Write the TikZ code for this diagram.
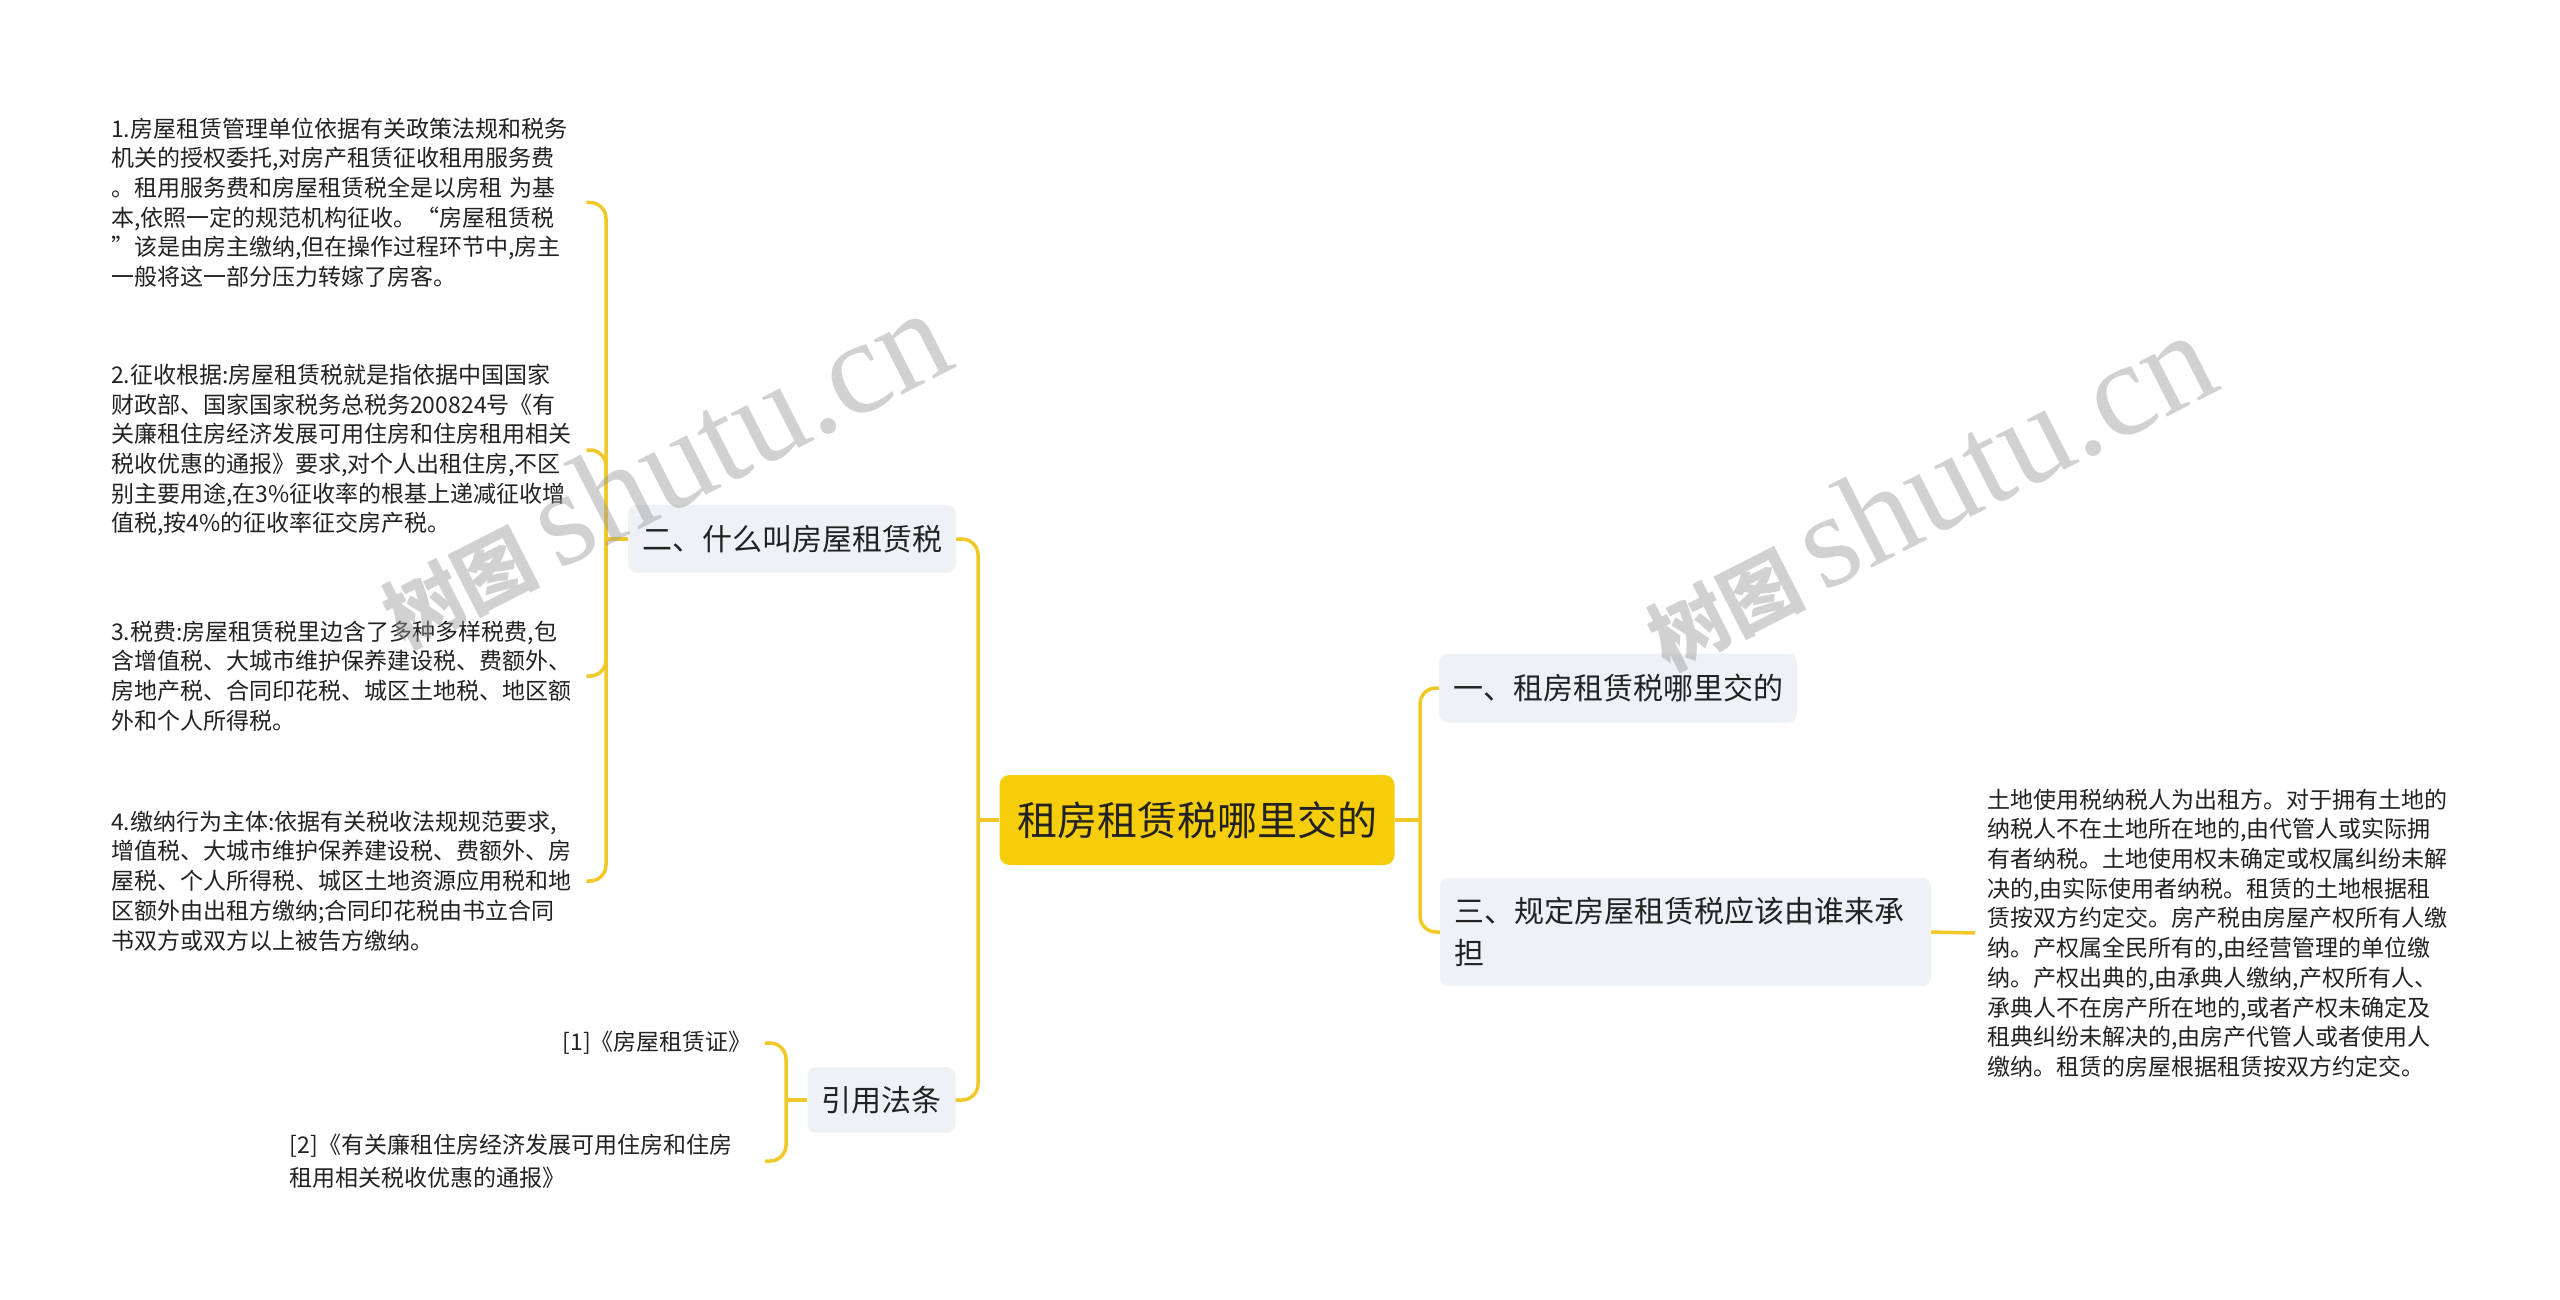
\documentclass[tikz,border=0pt]{standalone}
\usepackage{fontspec}
\setmainfont{Noto Sans CJK SC}
\newfontfamily\wmserif{Liberation Serif}
\definecolor{rootyellow}{HTML}{F5CD0A}
\definecolor{linkyellow}{HTML}{F0C929}
\definecolor{branchgray}{HTML}{EEF1F5}
\definecolor{textdark}{HTML}{222222}
\definecolor{wmgray}{HTML}{9A9A9A}
\begin{document}
\begin{tikzpicture}[x=1pt, y=-1pt,
  every node/.style={text=textdark, inner sep=0pt},
  rootbox/.style={fill=rootyellow, rounded corners=10pt, minimum width=395pt,
    minimum height=90pt, font=\fontsize{40}{48}\selectfont},
  branchbox/.style={fill=branchgray, rounded corners=9pt, align=left,
    inner xsep=14pt, font=\fontsize{30}{42}\selectfont},
  leaftext/.style={anchor=west, align=left, text width=475pt,
    font=\fontsize{23}{29.7}\selectfont},
  reftext/.style={anchor=east, inner xsep=13pt, align=left,
    font=\fontsize{23}{33}\selectfont},
  link/.style={draw=linkyellow, line width=3.5pt, rounded corners=16pt},
  watermark/.style={rotate=27, text=wmgray, opacity=0.45,
    font=\fontsize{78}{78}\selectfont}]
  % Hintergrund
  \fill[white] (0,0) rectangle (2560,1300);
  \useasboundingbox (0,0) rectangle (2560,1300);
  % Hauptknoten
  \node[rootbox] (root) at (1197,820) {租房租赁税哪里交的};
  % Aeste
  \node[branchbox, minimum width=357pt, minimum height=69pt] (ast1) at (1618,688)
    {一、租房租赁税哪里交的};
  \node[branchbox, minimum width=326pt, minimum height=68pt] (ast2) at (792,539)
    {二、什么叫房屋租赁税};
  \node[branchbox, text width=463pt, minimum height=108pt] (ast3) at (1685.5,932)
    {三、规定房屋租赁税应该由谁来承\\担};
  \node[branchbox, minimum width=147pt, minimum height=66pt] (quellen) at (881.5,1100)
    {引用法条};
  % Blaetter links
  \node[leaftext] (blatt1) at (111,202.5) {1.房屋租赁管理单位依据有关政策法规和税务\\
    机关的授权委托,对房产租赁征收租用服务费\\
    。租用服务费和房屋租赁税全是以房租 为基\\
    本,依照一定的规范机构征收。“房屋租赁税\\
    ”该是由房主缴纳,但在操作过程环节中,房主\\
    一般将这一部分压力转嫁了房客。};
  \node[leaftext] (blatt2) at (111,450) {2.征收根据:房屋租赁税就是指依据中国国家\\
    财政部、国家国家税务总税务200824号《有\\
    关廉租住房经济发展可用住房和住房租用相关\\
    税收优惠的通报》要求,对个人出租住房,不区\\
    别主要用途,在3\%征收率的根基上递减征收增\\
    值税,按4\%的征收率征交房产税。};
  \node[leaftext] (blatt3) at (111,676) {3.税费:房屋租赁税里边含了多种多样税费,包\\
    含增值税、大城市维护保养建设税、费额外、\\
    房地产税、合同印花税、城区土地税、地区额\\
    外和个人所得税。};
  \node[leaftext] (blatt4) at (111,881) {4.缴纳行为主体:依据有关税收法规规范要求,\\
    增值税、大城市维护保养建设税、费额外、房\\
    屋税、个人所得税、城区土地资源应用税和地\\
    区额外由出租方缴纳;合同印花税由书立合同\\
    书双方或双方以上被告方缴纳。};
  % Blatt rechts
  \node[leaftext, inner xsep=12pt] (blatt5) at (1975,933)
    {土地使用税纳税人为出租方。对于拥有土地的\\
    纳税人不在土地所在地的,由代管人或实际拥\\
    有者纳税。土地使用权未确定或权属纠纷未解\\
    决的,由实际使用者纳税。租赁的土地根据租\\
    赁按双方约定交。房产税由房屋产权所有人缴\\
    纳。产权属全民所有的,由经营管理的单位缴\\
    纳。产权出典的,由承典人缴纳,产权所有人、\\
    承典人不在房产所在地的,或者产权未确定及\\
    租典纠纷未解决的,由房产代管人或者使用人\\
    缴纳。租赁的房屋根据租赁按双方约定交。};
  % Quellen
  \node[reftext] (ref1) at (765,1043) {[1]《房屋租赁证》};
  \node[reftext, text width=462pt] (ref2) at (765,1161)
    {[2]《有关廉租住房经济发展可用住房和住房\\租用相关税收优惠的通报》};
  % Verbindungspunkte
  \coordinate (kL) at (978,820);
  \coordinate (kR) at (1420,820);
  \coordinate (k2) at (606,539);
  \coordinate (k4) at (786,1100);
  % Verbindungen
  \draw[link] (root.west) -- (kL);
  \draw[link] (root.east) -- (kR);
  \foreach \ziel in {ast2,quellen}{
    \draw[link] (kL) |- (\ziel.east);
  }
  \foreach \ziel in {ast1,ast3}{
    \draw[link] (kR) |- (\ziel.west);
  }
  \draw[link] (ast2.west) -- (k2);
  \foreach \ziel in {blatt1,blatt2,blatt3,blatt4}{
    \draw[link] (k2) |- (\ziel.east);
  }
  \draw[link] (quellen.west) -- (k4);
  \foreach \ziel in {ref1,ref2}{
    \draw[link] (k4) |- (\ziel.east);
  }
  \draw[link] (ast3.east) -- (blatt5.west);
  % Wasserzeichen
  \node[watermark] (wz1) at (662,470)
    {{\bfseries 树图} {\fontsize{134}{134}\selectfont\wmserif shutu.cn}};
  \node[watermark] (wz2) at (1927,492)
    {{\bfseries 树图} {\fontsize{134}{134}\selectfont\wmserif shutu.cn}};
\end{tikzpicture}
\end{document}
